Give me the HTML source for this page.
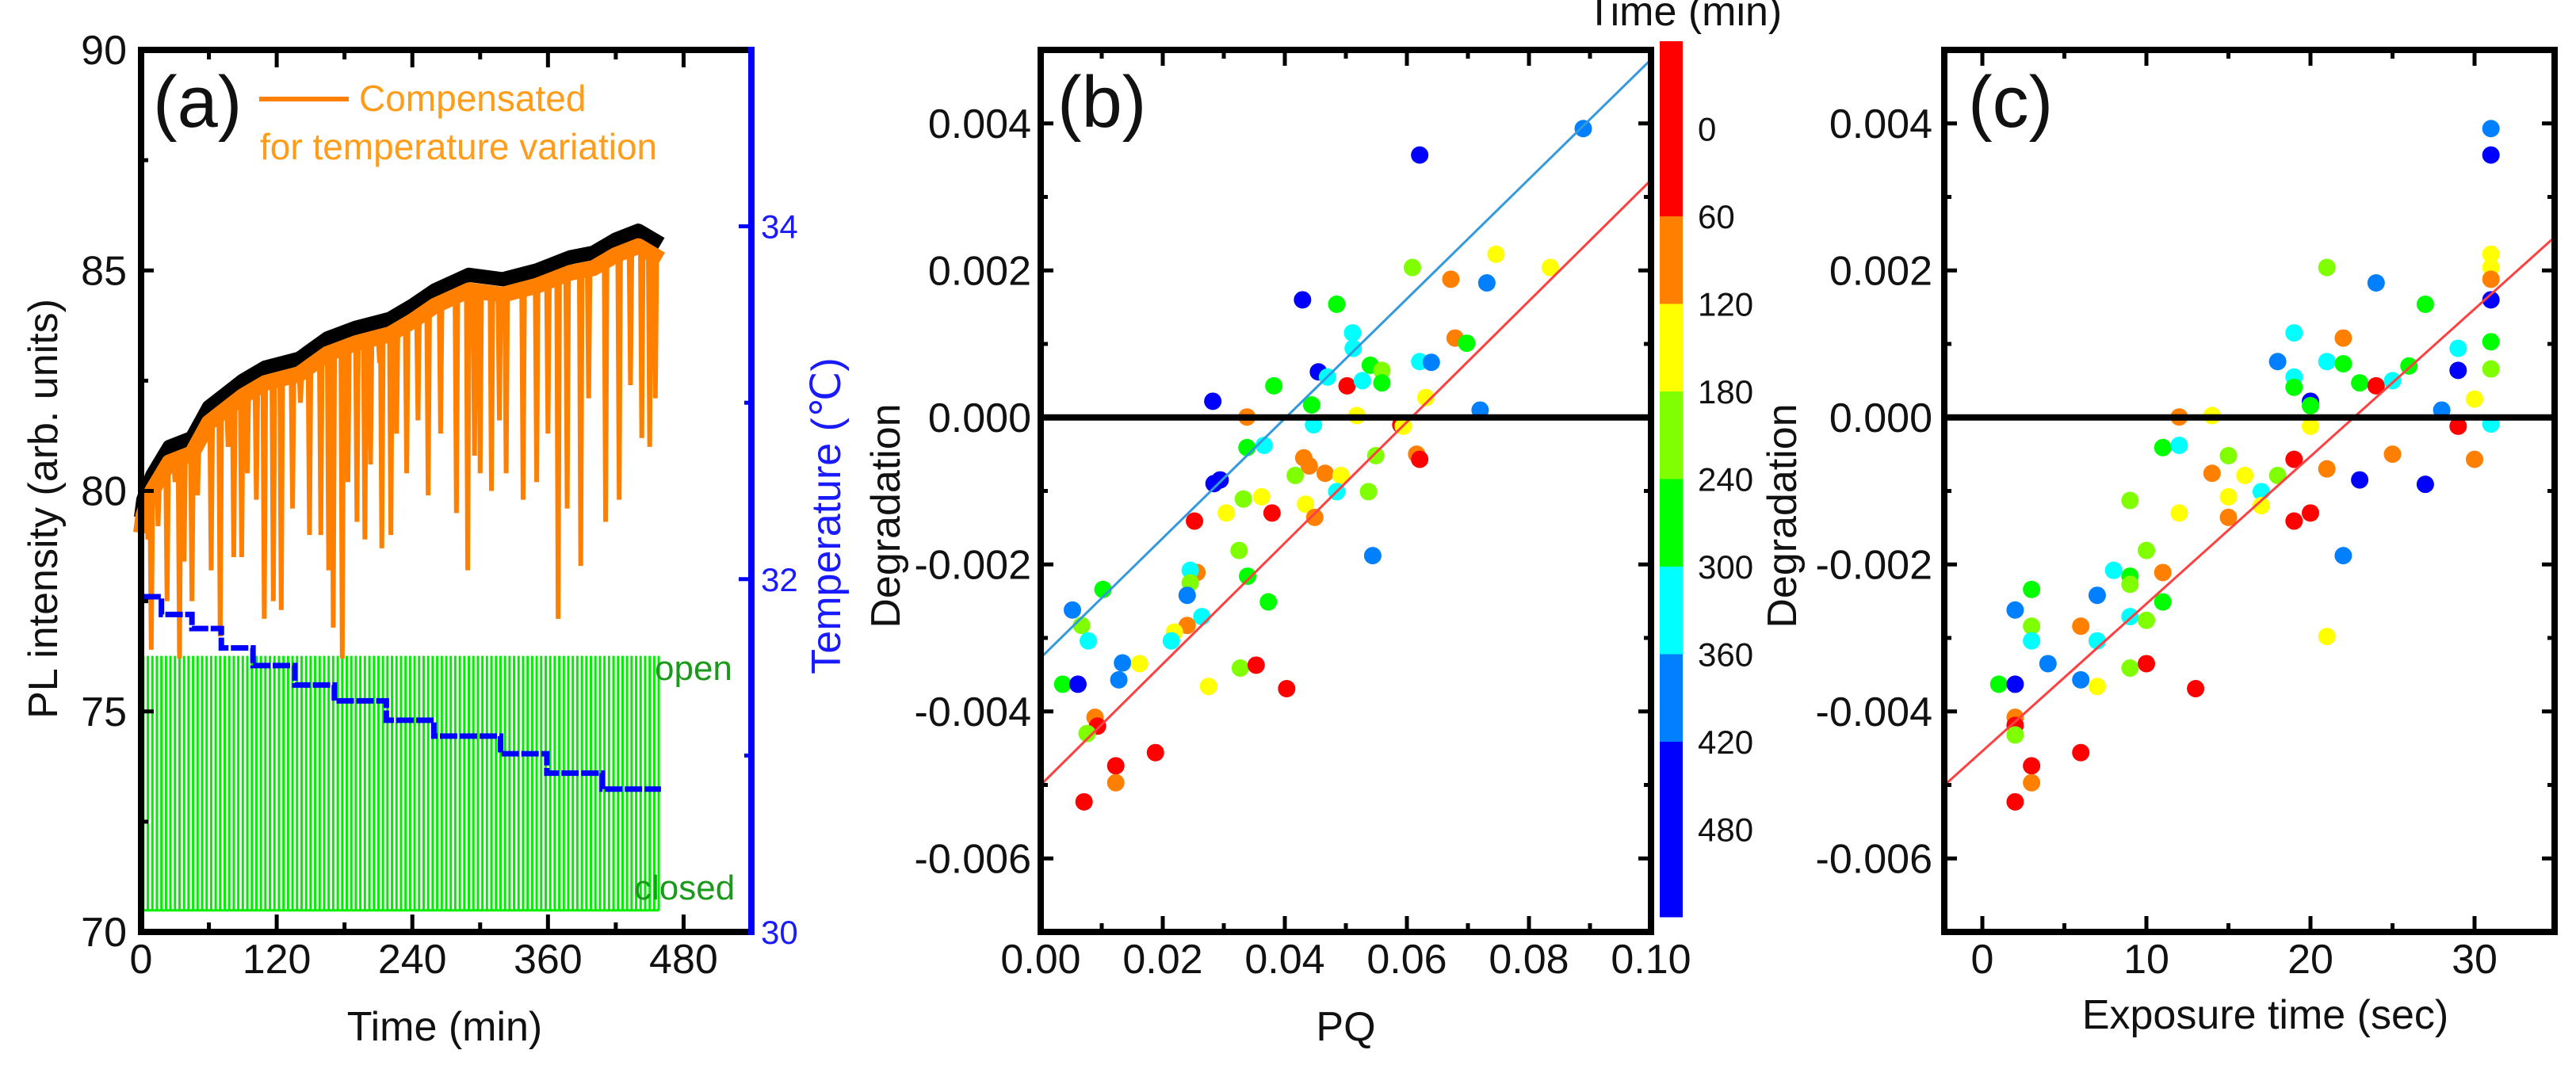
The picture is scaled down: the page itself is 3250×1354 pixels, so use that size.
<!DOCTYPE html>
<html><head><meta charset="utf-8"><style>
html,body{margin:0;padding:0;background:#fff;}
svg{display:block;font-family:"Liberation Sans",Arial,sans-serif;}
</style></head><body>
<svg id="fig" width="3250" height="1354" viewBox="0 0 3250 1354" xmlns="http://www.w3.org/2000/svg">
<rect x="0" y="0" width="3250" height="1354" fill="#fff"/>
<g id="pa"></g>
<g id="pb"></g>
<g id="pc"></g>
<text x="193" y="160" font-size="92" fill="#111">(a)</text>
<line x1="327" y1="125" x2="440" y2="125" stroke="#ff8000" stroke-width="6"/>
<text x="453" y="140" font-size="46" fill="#ff9c1a">Compensated</text>
<text x="328" y="201" font-size="46" fill="#ff9c1a">for temperature variation</text>
<text x="826" y="858" font-size="44" fill="#1a9a1a">open</text>
<text x="800" y="1135" font-size="44" fill="#1a9a1a">closed</text>
<text x="561" y="1313" font-size="52" text-anchor="middle" fill="#111">Time (min)</text>
<text transform="translate(72,642) rotate(-90)" font-size="52" text-anchor="middle" fill="#111">PL intensity (arb. units)</text>
<text transform="translate(1060,651) rotate(-90)" font-size="52" text-anchor="middle" fill="#1a1aff">Temperature (℃)</text>
<text x="1334" y="160" font-size="92" fill="#111">(b)</text>
<text x="1698" y="1313" font-size="52" text-anchor="middle" fill="#111">PQ</text>
<text transform="translate(1135,651) rotate(-90)" font-size="52" text-anchor="middle" fill="#111">Degradation</text>
<text x="2125" y="32" font-size="52" text-anchor="middle" fill="#111">Time (min)</text>
<text x="2483" y="160" font-size="92" fill="#111">(c)</text>
<text x="2858" y="1298" font-size="52" text-anchor="middle" fill="#111">Exposure time (sec)</text>
<text transform="translate(2266,651) rotate(-90)" font-size="52" text-anchor="middle" fill="#111">Degradation</text>
</svg>
<script>
const blackT = [0,2,10,25,45,60,75,90,110,140,165,190,220,240,260,290,320,350,380,400,420,440,460];
const blackV = [79.6,80.0,80.56,81.2,81.4,82.1,82.4,82.7,83.0,83.2,83.66,83.9,84.1,84.4,84.75,85.1,85.0,85.2,85.5,85.6,85.9,86.1,85.8];
const spikeT = [6,9,15,23,30,34,38,45,50,62,70,77,82,89,94,102,109,117,124,134,141,149,159,166,170,178,183,191,198,203,211,213,221,226,235,245,254,265,279,289,295,300,310,317,323,338,350,360,369,377,389,396,411,423,433,443,450,455];
const spikeV = [78.9,76.4,79.2,77.5,80.2,76.2,78.4,77.5,79.9,78.2,76.7,81.0,78.5,78.5,80.4,79.8,77.1,77.5,77.3,79.6,82.0,79.0,79.0,78.2,76.9,76.2,80.2,79.3,78.9,80.6,82.9,78.7,79.0,81.3,80.4,81.6,79.9,81.3,79.5,78.2,80.8,80.4,80.0,81.6,80.4,79.8,80.2,81.3,77.1,79.6,78.3,82.1,79.3,79.8,82.4,81.2,81.0,82.1];
const tempT = [2,18,45,71,99,136,171,217,259,318,359,408,460];
const tempV = [31.9,31.8,31.72,31.61,31.51,31.4,31.31,31.2,31.11,31.01,30.9,30.81];
const shutterT = [2,6,10,14,18,22,26,30,34,38,42,46,50,54,58,62,66,70,74,78,82,86,90,94,98,102,106,110,114,118,122,126,130,134,138,142,146,150,154,158,162,166,170,174,178,182,186,190,194,198,202,206,210,214,218,222,226,230,234,238,242,246,250,254,258,262,266,270,274,278,282,286,290,294,298,302,306,310,314,318,322,326,330,334,338,342,346,350,354,358,362,366,370,374,378,382,386,390,394,398,402,406,410,414,418,422,426,430,434,438,442,446,450,454,458];
const shutterOpen = 76.26, shutterClosed = 70.49;
const aXTicks = [0,120,240,360,480];
const aYTicks = [70,75,80,85,90];
const aY2Ticks = [30,32,34];

const pbPQ = [.0889,.0621,.0746,.0835,.0609,.0672,.0731,.0429,.0485,.0511,.0679,.0698,.0512,.054,.0559,.0621,.064,.0455,.047,.0502,.0527,.0559,.0382,.0282,.0631,.0444,.072,.0338,.0518,.059,.0594,.0447,.0366,.0338,.0549,.0616,.0621,.0431,.044,.0466,.0417,.0492,.0284,.0294,.0485,.0537,.0332,.0362,.0434,.0379,.0304,.0449,.0252,.0325,.0544,.0256,.0245,.0339,.0245,.024,.0102,.0373,.0052,.0067,.0264,.024,.0219,.0078,.0214,.0134,.0162,.0327,.0353,.0128,.0036,.0061,.0403,.0275,.0089,.0093,.0076,.0188,.0123,.0123,.0071];
const pbDeg = [.00393,.00357,.00222,.00204,.00204,.00188,.00183,.0016,.00154,.00115,.00108,.00101,.00094,.00071,.00064,.00076,.00075,.00062,.00055,.00043,.0005,.00047,.00043,.00022,.00027,.00017,.0001,.000006,.000025,-.0001,-.00012,-.0001,-.00038,-.00041,-.00052,-.0005,-.00057,-.00055,-.00066,-.00076,-.00079,-.00079,-.0009,-.00085,-.00101,-.00101,-.00111,-.00108,-.00118,-.0013,-.0013,-.00136,-.00141,-.00181,-.00188,-.00211,-.00208,-.00216,-.00225,-.00242,-.00234,-.00251,-.00262,-.00283,-.00271,-.00283,-.00292,-.00304,-.00304,-.00334,-.00335,-.00341,-.00337,-.00357,-.00363,-.00363,-.00369,-.00366,-.00408,-.0042,-.0043,-.00456,-.00474,-.00497,-.00523];
const pbCol = [6,7,2,2,3,1,6,7,4,5,1,4,5,4,3,5,6,7,5,0,5,4,4,7,2,4,6,1,2,0,2,5,5,4,3,1,0,1,1,1,3,2,7,7,5,3,3,2,2,0,2,1,0,3,6,1,5,4,3,6,4,4,6,3,5,1,2,5,5,6,2,3,0,6,4,7,0,2,1,0,3,0,0,1,0];
const fitB = [{b:-0.00327,m:0.0814,c:'#3399dd'},{b:-0.005,m:0.0823,c:'#ff4040'}];
const bXTicks = [0,0.02,0.04,0.06,0.08,0.10];
const bXLabels = ['0.00','0.02','0.04','0.06','0.08','0.10'];
const degTicks = [0.004,0.002,0,-0.002,-0.004,-0.006];
const degLabels = ['0.004','0.002','0.000','-0.002','-0.004','-0.006'];
const cbColors = ['#ff0000','#ff8000','#ffff00','#80ff00','#00ff00','#00ffff','#0080ff','#0000ff'];
const cbLabels = ['0','60','120','180','240','300','360','420','480'];

const pcExp = [31,31,31,31,31,31,31,31,31,21,24,27,19,22,18,21,22,26,29,29,19,19,23,24,25,20,20,30,28,29,12,14,20,11,12,15,19,25,30,14,16,18,21,23,27,9,15,17,17,12,15,19,20,10,22,11,8,9,9,3,7,2,3,6,9,10,11,3,7,21,4,9,10,6,1,2,7,13,2,2,2,6,3,3,2];
const pcDeg = [.00393,.00357,.00222,.00204,.00188,.0016,.00103,.00066,-.00009,.00204,.00183,.00154,.00115,.00108,.00076,.00076,.00073,.0007,.00094,.00064,.00055,.00041,.00047,.00043,.0005,.00022,.00016,.00025,.0001,-.00012,.000006,.000025,-.00012,-.00041,-.00038,-.00052,-.00057,-.0005,-.00057,-.00076,-.00079,-.00079,-.0007,-.00085,-.00091,-.00113,-.00108,-.00101,-.0012,-.0013,-.00136,-.00141,-.0013,-.00181,-.00188,-.00211,-.00208,-.00216,-.00227,-.00234,-.00242,-.00262,-.00284,-.00284,-.00271,-.00276,-.00251,-.00304,-.00304,-.00298,-.00335,-.00341,-.00335,-.00357,-.00363,-.00363,-.00366,-.00369,-.00408,-.00419,-.00432,-.00456,-.00474,-.00497,-.00523];
const pcCol = [6,7,2,2,1,7,4,3,5,3,6,4,5,1,6,5,4,4,5,7,5,4,4,0,5,7,4,2,6,0,1,2,2,4,5,3,0,1,1,1,2,3,1,7,7,3,2,5,2,2,1,0,0,3,6,1,5,4,3,4,6,6,3,1,5,3,4,5,5,2,6,3,0,6,4,7,2,0,1,0,3,0,0,1,0];
const fitC = [{b:-0.00454,m:0.0002005,c:'#ff4040'}];
const cXTicks = [0,10,20,30];
const cXLabels = ['0','10','20','30'];

const NS='http://www.w3.org/2000/svg';
function mk(parent, tag, attrs){const e=document.createElementNS(NS,tag);for(const k in attrs)e.setAttribute(k,attrs[k]);parent.appendChild(e);return e;}
function interp(xs,ys,x){if(x<=xs[0])return ys[0];for(let i=1;i<xs.length;i++){if(x<=xs[i]){const f=(x-xs[i-1])/(xs[i]-xs[i-1]);return ys[i-1]+f*(ys[i]-ys[i-1]);}}return ys[ys.length-1];}

(function(){
const g=document.getElementById('pa');
const L=178,R=948,T=63,B=1176;
const xA=t=>L+t*(R-L)/540;
const yA=v=>T+(90-v)/20*(B-T);
const yT=v=>T+(35-v)/5*(B-T);
let e;
for(let i=0;i<shutterT.length;i++){
  e=mk(g,'line',{x1:xA(shutterT[i]),x2:xA(shutterT[i]),y1:yA(shutterOpen),y2:yA(shutterClosed),stroke:'#00ee00','stroke-width':3});
  
  
}
e=mk(g,'line',{x1:xA(shutterT[0]),x2:xA(shutterT[shutterT.length-1]),y1:yA(shutterClosed),y2:yA(shutterClosed),stroke:'#00ee00','stroke-width':3});


let pts=blackT.map((t,i)=>xA(t)+','+yA(blackV[i]-0.2)).join(' ');
e=mk(g,'polyline',{points:pts,fill:'none',stroke:'#000','stroke-width':18,'stroke-linejoin':'round'});


let base=blackT.map((t,i)=>xA(t)+','+yA(blackV[i]-0.55)).join(' ');
e=mk(g,'polyline',{points:base,fill:'none',stroke:'#ff8000','stroke-width':20,'stroke-linejoin':'round'});


let d='';
for(let i=0;i<spikeT.length;i++){
  const t=spikeT[i];const bv=interp(blackT,blackV,t)-0.55;
  d+='M'+xA(t-1.2)+','+yA(bv)+' L'+xA(t)+','+yA(spikeV[i])+' L'+xA(t+1.2)+','+yA(bv)+' ';
}
e=mk(g,'path',{d:d,fill:'none',stroke:'#ff8000','stroke-width':6});


let td='M'+xA(tempT[0])+','+yT(tempV[0]);
for(let i=0;i<tempV.length;i++){td+=' L'+xA(tempT[i+1])+','+yT(tempV[i]);if(i+1<tempV.length)td+=' L'+xA(tempT[i+1])+','+yT(tempV[i+1]);}
e=mk(g,'path',{d:td,fill:'none',stroke:'#0000ff','stroke-width':7,'stroke-dasharray':'22 3'});


e=mk(g,'polyline',{points:`${R},${T} ${L},${T} ${L},${B} ${R},${B}`,fill:'none',stroke:'#000','stroke-width':8});


e=mk(g,'line',{x1:R,x2:R,y1:T-4,y2:B+4,stroke:'#0000ff','stroke-width':8});


for(let v=70;v<=90;v+=2.5){const maj=(v%5===0);const y=yA(v);
  e=mk(g,'line',{x1:L,x2:L+(maj?16:9),y1:y,y2:y,stroke:'#000','stroke-width':5});
  
  }
for(let t=60;t<=480;t+=60){const maj=(t%120===0);const x=xA(t);
  e=mk(g,'line',{x1:x,x2:x,y1:B,y2:B-(maj?22:12),stroke:'#000','stroke-width':5});
  
  
  e=mk(g,'line',{x1:x,x2:x,y1:T,y2:T+(maj?22:12),stroke:'#000','stroke-width':5});
  
  }
for(let v=31;v<=34;v+=1){const y=yT(v);
  e=mk(g,'line',{x1:R,x2:R-(v%2===0?16:9),y1:y,y2:y,stroke:'#0000ff','stroke-width':5});
  
  }
aYTicks.forEach(v=>{e=mk(g,'text',{x:160,y:yA(v)+18,'font-size':52,'text-anchor':'end',fill:'#111'});e.textContent=String(v);
  
  });
aXTicks.forEach(v=>{e=mk(g,'text',{x:xA(v),y:1228,'font-size':52,'text-anchor':'middle',fill:'#111'});e.textContent=String(v);
  
  });
aY2Ticks.forEach(v=>{e=mk(g,'text',{x:960,y:yT(v)+15,'font-size':42,fill:'#1a1aff'});e.textContent=String(v);
  
  });
})();

function scatterPanel(gid,L,R,xmin,xmax,xs,ys,cols,fits,xTicks,xLabels,xMinorStep,labelRight,nameSuffix){
const g=document.getElementById(gid);
const T=63,B=1176;
const xS=v=>L+(v-xmin)/(xmax-xmin)*(R-L);
const yS=v=>T+(0.005-v)/0.012*(B-T);
let e;
for(let i=0;i<xs.length;i++){
  e=mk(g,'circle',{cx:xS(xs[i]),cy:yS(ys[i]),r:11,fill:cbColors[cols[i]]});
  
  
}
fits.forEach(f=>{
  const x0=xmin,x1=xmax;
  e=mk(g,'line',{x1:xS(x0),y1:yS(f.b+f.m*x0),x2:xS(x1),y2:yS(f.b+f.m*x1),stroke:f.c,'stroke-width':3});
  
  
});
e=mk(g,'line',{x1:L,x2:R,y1:yS(0),y2:yS(0),stroke:'#000','stroke-width':8});


e=mk(g,'rect',{x:L,y:T,width:R-L,height:B-T,fill:'none',stroke:'#000','stroke-width':8});


for(let k=-7;k<=5;k++){const v=k*0.001;const y=yS(v);const maj=(k%2===0);
  e=mk(g,'line',{x1:L,x2:L+(maj?16:9),y1:y,y2:y,stroke:'#000','stroke-width':5});
  
  
  e=mk(g,'line',{x1:R,x2:R-(maj?16:9),y1:y,y2:y,stroke:'#000','stroke-width':5});
  
  }
for(let v=Math.ceil(xmin/xMinorStep)*xMinorStep;v<=xmax+1e-9;v+=xMinorStep){const x=xS(v);
  const maj=Math.abs(Math.round(v/(2*xMinorStep))*(2*xMinorStep)-v)<1e-9;
  if(x<=L+2||x>=R-2)continue;
  e=mk(g,'line',{x1:x,x2:x,y1:B,y2:B-(maj?20:11),stroke:'#000','stroke-width':5});
  
  
  e=mk(g,'line',{x1:x,x2:x,y1:T,y2:T+(maj?20:11),stroke:'#000','stroke-width':5});
  
  }
degTicks.forEach((v,i)=>{e=mk(g,'text',{x:labelRight,y:yS(v)+18,'font-size':52,'text-anchor':'end',fill:'#111'});e.textContent=degLabels[i];
  
  });
xTicks.forEach((v,i)=>{e=mk(g,'text',{x:xS(v),y:1228,'font-size':52,'text-anchor':'middle',fill:'#111'});e.textContent=xLabels[i];
  
  });
}
scatterPanel('pb',1313,2083,0,0.10,pbPQ,pbDeg,pbCol,fitB,bXTicks,bXLabels,0.01,1301,'b');
scatterPanel('pc',2453,3223,-2.32,34.88,pcExp,pcDeg,pcCol,fitC,cXTicks,cXLabels,5,2438,'c');

(function(){
const g=document.getElementById('pb');
const top=52,unit=110.5,x=2094,w=29;
const bands=[2,1,1,1,1,1,1,2];
let y=top,e;
cbColors.forEach((c,i)=>{
  e=mk(g,'rect',{x:x,y:y,width:w,height:bands[i]*unit+0.5,fill:c});
  
  
  y+=bands[i]*unit;
});
cbLabels.forEach((s,i)=>{
  e=mk(g,'text',{x:2142,y:top+(i+1)*unit+15,'font-size':42,fill:'#111'});e.textContent=s;
  
  
});
})();
</script>
</body></html>
